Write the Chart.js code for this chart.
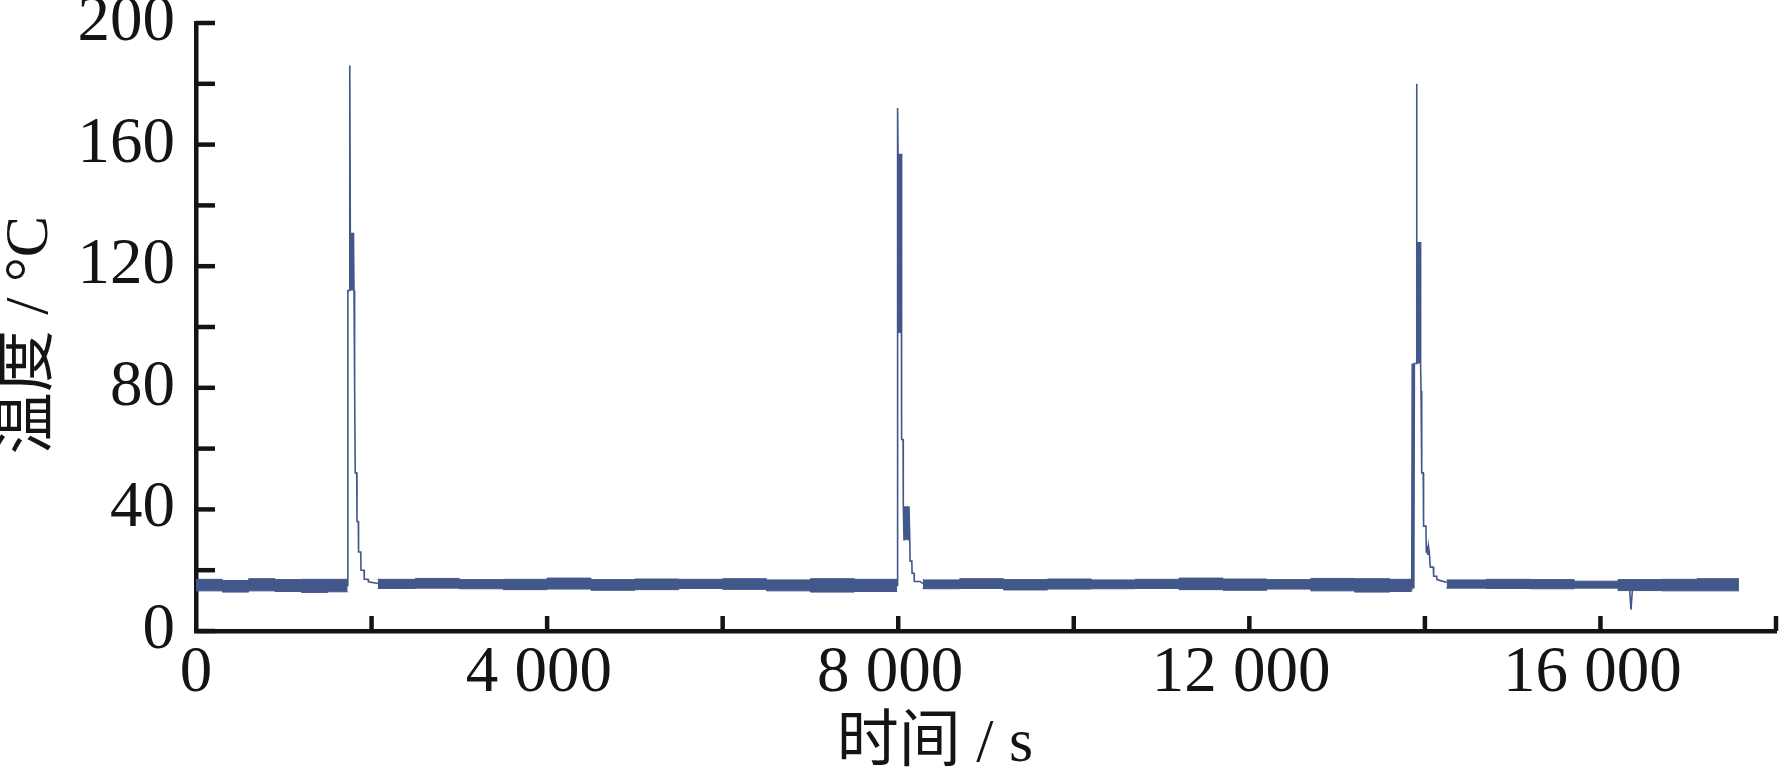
<!DOCTYPE html>
<html>
<head>
<meta charset="utf-8">
<script src="https://cdn.jsdelivr.net/npm/chart.js@4.4.1/dist/chart.umd.min.js"></script>
<style>
  html, body { margin: 0; padding: 0; background: #ffffff; }
  canvas { display: block; }
</style>
</head>
<body>
<canvas id="chart" width="1780" height="775"></canvas>
<script>
// ---- axis ticks / titles ----
const xTickValues = [0, 4000, 8000, 12000, 16000];
const xTickLabels = ['0', '4 000', '8 000', '12 000', '16 000'];
const yTickValues = [0, 40, 80, 120, 160, 200];
const yTickLabels = ['0', '40', '80', '120', '160', '200'];
const xTitle = '时间 / s';
const yTitle = '温度 / °C';

// ---- baseline noise band (upper / lower envelope, °C), null = break at heating pulses ----
const bandTime = [0, 300, 600, 900, 1200, 1500, 1728, 1900,
  2073, 2500, 3000, 3500, 4000, 4500, 5000, 5500, 6000, 6500, 7000, 7500, 7988, 8100,
  8282, 8700, 9200, 9700, 10200, 10700, 11200, 11700, 12200, 12700, 13200, 13600, 13850, 14000,
  14248, 14700, 15200, 15700, 16200, 16700, 17100, 17578];
const bandHigh = [16.8, 17.0, 16.6, 17.2, 16.9, 17.0, 17.0, null,
  17.2, 17.0, 17.3, 16.9, 17.0, 17.4, 16.9, 17.1, 17.0, 17.2, 16.8, 17.2, 17.0, null,
  17.0, 16.8, 17.2, 16.9, 17.1, 16.8, 17.0, 17.4, 17.1, 16.9, 17.3, 17.2, 17.0, null,
  16.9, 16.8, 17.0, 16.9, 16.4, 16.9, 17.0, 17.2];
const bandLow = [13.0, 13.2, 12.8, 13.2, 13.0, 12.7, 12.9, null,
  14.2, 14.0, 14.1, 13.9, 13.6, 13.8, 13.4, 13.6, 14.0, 13.7, 13.2, 12.8, 13.0, null,
  14.2, 13.9, 14.0, 13.5, 13.8, 13.9, 14.0, 13.6, 13.4, 13.8, 13.2, 12.8, 13.0, null,
  14.3, 14.1, 14.0, 13.9, 14.1, 13.3, 13.2, 13.2];

// ---- temperature pulses (s, °C), null separates events ----
const peakTime = [
  1700, 1728, 1730, 1746, 1752, 1758, 1764, 1770, 1776, 1782, 1788, 1794, 1800, 1803, 1811, 1814, 1831, 1834, 1849, 1852, 1877, 1880, 1914, 1917, 1960, 1965, 2073, 2074,
  7960, 7988, 7990, 7996, 7998, 8004, 8010, 8016, 8022, 8028, 8034, 8037, 8040, 8055, 8058, 8066, 8074, 8082, 8090, 8098, 8106, 8114, 8122, 8132, 8135, 8155, 8158, 8180, 8183, 8248, 8282, 8283,
  13830, 13850, 13856, 13862, 13868, 13874, 13880, 13887, 13902, 13905, 13910, 13916, 13922, 13928, 13934, 13940, 13946, 13951, 13956, 13962, 13966, 13981, 13985, 14012, 14016, 14024, 14032, 14040, 14050, 14058, 14062, 14096, 14100, 14134, 14138, 14248, 14249,
  16330, 16348, 16366];
const peakTemp = [
  15.0, 15.0, 112, 112, 186, 131, 112, 131, 112, 131, 112, 131, 112, 81, 81, 52, 52, 36, 36, 26, 26, 20, 20, 17, 17, 16.2, 15.6, null,
  15.0, 15.0, 172, 172, 157, 98, 157, 98, 157, 98, 157, 98, 63, 63, 41, 30, 41, 30, 41, 30, 41, 30, 41, 30, 23, 23, 19, 19, 16.3, 16.3, 15.6, null,
  15.0, 14.0, 88, 14, 88, 14, 88, 88, 88, 180, 128, 88, 128, 88, 128, 88, 128, 88, 79, 79, 52, 52, 34.5, 34.5, 26, 28, 25, 28, 26, 26, 21, 21, 18, 18, 16.9, 16.0, null,
  14.5, 7.0, 14.5];

const LINE = '#42578a';
const TXT = '#141414';
const tickFont = { family: '"Liberation Serif", "Times New Roman", serif', size: 65, lineHeight: 1 };
const titleFont = '62px "Liberation Serif", "Noto Sans CJK SC", serif';

const toXY = (xs, ys) => xs.map((t, i) => ({ x: t, y: ys[i] }));

const inwardTicks = {
  id: 'inwardTicks',
  afterDraw(chart) {
    const { ctx, chartArea } = chart;
    const xs = chart.scales.x, ys = chart.scales.y;
    ctx.save();
    ctx.strokeStyle = TXT;
    ctx.lineWidth = 4.5;
    ctx.lineCap = 'butt';
    ys.ticks.forEach(t => {
      const y = ys.getPixelForValue(t.value);
      ctx.beginPath();
      ctx.moveTo(chartArea.left, y);
      ctx.lineTo(chartArea.left + 19, y);
      ctx.stroke();
    });
    xs.ticks.forEach(t => {
      if (t.value === 0) return;
      const x = xs.getPixelForValue(t.value);
      ctx.beginPath();
      ctx.moveTo(x, chartArea.bottom);
      ctx.lineTo(x, chartArea.bottom - 15);
      ctx.stroke();
    });
    ctx.restore();
  }
};

const axisTitles = {
  id: 'axisTitles',
  afterDraw(chart) {
    const { ctx } = chart;
    ctx.save();
    ctx.fillStyle = TXT;
    ctx.font = titleFont;
    ctx.textAlign = 'center';
    ctx.textBaseline = 'middle';
    ctx.fillText(xTitle, 935, 745);
    ctx.translate(31, 335);
    ctx.rotate(-Math.PI / 2);
    ctx.fillText(yTitle, 0, 0);
    ctx.restore();
  }
};

function fixBox(w, h) {
  return (s) => {
    if (w !== null) s.width = w;
    if (h !== null) s.height = h;
    s.paddingTop = 0; s.paddingBottom = 0; s.paddingLeft = 0; s.paddingRight = 0;
  };
}

new Chart(document.getElementById('chart'), {
  type: 'line',
  data: {
    datasets: [
      {
        label: 'band-high',
        data: toXY(bandTime, bandHigh),
        borderColor: LINE, borderWidth: 1, stepped: 'after',
        pointRadius: 0, fill: false, spanGaps: false
      },
      {
        label: 'band-low',
        data: toXY(bandTime, bandLow),
        borderColor: LINE, borderWidth: 1, stepped: 'after',
        backgroundColor: LINE, pointRadius: 0, fill: '-1', spanGaps: false
      },
      {
        label: '温度',
        data: toXY(peakTime, peakTemp),
        borderColor: LINE, borderWidth: 1.6,
        pointRadius: 0, fill: false, spanGaps: false, tension: 0
      }
    ]
  },
  options: {
    responsive: false,
    animation: false,
    devicePixelRatio: 1,
    layout: { padding: { left: 78, right: 4, top: 23, bottom: 0 } },
    plugins: { legend: { display: false }, tooltip: { enabled: false } },
    scales: {
      x: {
        type: 'linear', min: 0, max: 18000,
        grid: { display: false, drawTicks: false },
        border: { display: true, color: TXT, width: 4.5 },
        ticks: {
          stepSize: 2000, autoSkip: false, maxRotation: 0, padding: 10,
          color: TXT, font: tickFont,
          callback: (v) => {
            const i = xTickValues.indexOf(v);
            if (i < 0) return '';
            return i > 0 ? xTickLabels[i] + ' ' : xTickLabels[i];
          }
        },
        afterFit: fixBox(null, 144)
      },
      y: {
        type: 'linear', min: 0, max: 200,
        grid: { display: false, drawTicks: false },
        border: { display: true, color: TXT, width: 4.5 },
        ticks: {
          stepSize: 20, autoSkip: false, padding: 21,
          color: TXT, font: tickFont,
          callback: (v) => {
            const i = yTickValues.indexOf(v);
            return i < 0 ? '' : yTickLabels[i];
          }
        },
        afterFit: fixBox(118, null)
      }
    }
  },
  plugins: [inwardTicks, axisTitles]
});
</script>
</body>
</html>
